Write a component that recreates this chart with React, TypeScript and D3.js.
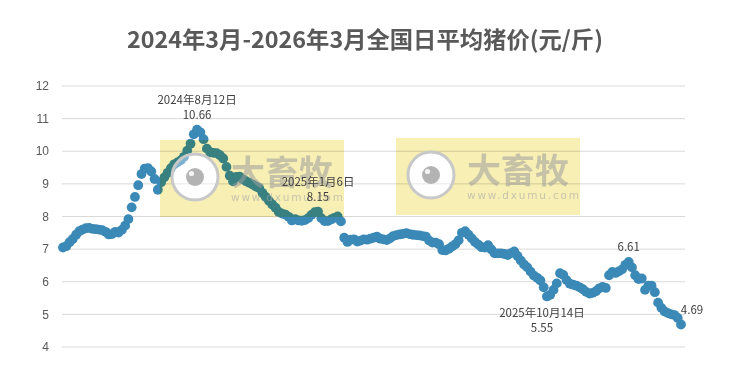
import React from "react";
import * as d3 from "d3";

const TITLE = "2024年3月-2026年3月全国日平均猪价(元/斤)";
const START_DATE = "2024-03-01";
const STEP_DAYS = 4;
const Y_TICKS = [4, 5, 6, 7, 8, 9, 10, 11, 12];

// Daily average pig price (yuan/jin), one reading every 4 days from 2024-03-01
const PRICES = [
  7.05, 7.09, 7.21, 7.31, 7.44, 7.55, 7.6, 7.64, 7.65, 7.62,
  7.61, 7.6, 7.58, 7.53, 7.45, 7.46, 7.53, 7.51, 7.59, 7.72,
  7.92, 8.28, 8.6, 8.96, 9.3, 9.47, 9.48, 9.38, 9.15, 8.82,
  9.05, 9.2, 9.34, 9.48, 9.6, 9.66, 9.72, 9.83, 10.02, 10.23,
  10.52, 10.66, 10.58, 10.37, 10.08, 9.97, 9.95, 9.94, 9.88, 9.78,
  9.52, 9.25, 9.08, 9.21, 9.22, 9.14, 9.08, 9.03, 8.98, 8.92,
  8.87, 8.72, 8.6, 8.48, 8.37, 8.27, 8.14, 8.09, 8.06, 7.99,
  7.88, 7.92, 7.88, 7.87, 7.89, 7.95, 8.05, 8.13, 8.15, 7.95,
  7.86, 7.86, 7.91, 7.96, 8.0, 7.85, 7.35, 7.22, 7.29, 7.3,
  7.23, 7.26, 7.3, 7.29, 7.32, 7.35, 7.38, 7.32, 7.3, 7.28,
  7.33, 7.4, 7.43, 7.45, 7.47, 7.49, 7.46, 7.44, 7.43, 7.42,
  7.4, 7.38, 7.26, 7.2, 7.2, 7.15, 6.97, 6.96, 7.01, 7.08,
  7.15, 7.27, 7.5, 7.55, 7.44, 7.33, 7.22, 7.14, 7.06, 7.05,
  7.12, 6.99, 6.87, 6.87, 6.87, 6.85, 6.82, 6.88, 6.93, 6.79,
  6.65, 6.53, 6.44, 6.31, 6.19, 6.12, 6.04, 5.83, 5.55, 5.6,
  5.75, 5.95, 6.26, 6.21, 6.05, 5.94, 5.91, 5.88, 5.83, 5.77,
  5.69, 5.64, 5.66, 5.71, 5.8, 5.84, 5.81, 6.2, 6.3, 6.27,
  6.32, 6.38, 6.52, 6.61, 6.44, 6.2, 6.08, 6.1, 5.75, 5.88,
  5.88, 5.68, 5.36, 5.2, 5.09, 5.04, 5.0, 4.98, 4.89, 4.69,
];

// Annotated points: index into PRICES, label lines
const NOTE_INDEX = [41, 78, 148, 173, 189];
const NOTE_DATE = ["2024年8月12日", "2025年1月6日", "2025年10月14日", "", ""];
const NOTE_VALUE = ["10.66", "8.15", "5.55", "6.61", "4.69"];

const W = 729;
const H = 367;

function Watermark({ x, y }: { x: number; y: number }) {
  const bw = 184;
  const bh = 77;
  const cx = x + 35;
  const cy = y + 37;
  const r = 23;
  const box = `M${x},${y}h${bw}v${bh}h${-bw}Z M${cx + r},${cy} A${r},${r} 0 1,0 ${cx - r},${cy} A${r},${r} 0 1,0 ${cx + r},${cy}Z`;
  return (
    <g>
      <path d={box} fill="#f7efb4" fillRule="evenodd" style={{ mixBlendMode: "multiply" }} />
      <circle cx={cx} cy={cy} r={r} fill="#ffffff" fillOpacity={0.35} stroke="#c8c8c8" strokeWidth={3} />
      <circle cx={cx} cy={cy} r={9} fill="#ababab" fillOpacity={0.9} />
      <circle cx={cx - 3.5} cy={cy - 3.5} r={2.6} fill="#ffffff" fillOpacity={0.85} />
      <text
        x={x + 71}
        y={y + 45}
        fontFamily="'Noto Sans CJK SC', sans-serif"
        fontWeight={700}
        fontSize={34}
        fill="#9c9c9c"
        fillOpacity={0.55}
      >
        大畜牧
      </text>
      <text
        x={x + 71}
        y={y + 61}
        fontFamily="'DejaVu Sans', sans-serif"
        fontSize={10.5}
        letterSpacing={1.8}
        fill="#a8a8a8"
        fillOpacity={0.6}
      >
        www.dxumu.com
      </text>
    </g>
  );
}

export default function App() {
  const start = new Date(START_DATE + "T00:00:00");
  const dates = PRICES.map((_, i) => d3.timeDay.offset(start, i * STEP_DAYS));
  const x = d3
    .scaleTime()
    .domain([dates[0], dates[dates.length - 1]])
    .range([63, 681]);
  const y = d3.scaleLinear().domain([4, 12]).range([347, 86]);

  const labelFont = "'Noto Sans CJK SC', 'Liberation Sans', sans-serif";

  return (
    <svg
      width={W}
      height={H}
      style={{ position: "absolute", left: 0, top: 0, background: "#fff" }}
    >
      <rect width={W} height={H} fill="#ffffff" />
      <text
        x={365}
        y={48}
        textAnchor="middle"
        fontFamily="'Noto Sans CJK SC', sans-serif"
        fontWeight={700}
        fontSize={23}
        textLength={476}
        lengthAdjust="spacingAndGlyphs"
        fill="#595959"
      >
        {TITLE}
      </text>
      {Y_TICKS.map((t) => (
        <g key={t}>
          <line x1={62} x2={685} y1={y(t)} y2={y(t)} stroke="#d9d9d9" strokeWidth={1} />
          <text
            x={49}
            y={y(t)}
            dy="0.35em"
            textAnchor="end"
            fontFamily="'Liberation Sans', sans-serif"
            fontSize={12}
            fill="#595959"
          >
            {t}
          </text>
        </g>
      ))}
      <g>
        {PRICES.map((v, i) => (
          <circle key={i} cx={x(dates[i])} cy={y(v)} r={4.9} fill="#3b89b6" />
        ))}
      </g>
      <Watermark x={160} y={140} />
      <Watermark x={396} y={138} />
      <g fontFamily={labelFont} fontSize={11.5} fill="#404040">
        {NOTE_INDEX.map((idx, k) => {
          const px = x(dates[idx]);
          const py = y(PRICES[idx]);
          if (k === 2) {
            return (
              <g key={k}>
                <text x={px - 5} y={py + 21} textAnchor="middle">{NOTE_DATE[k]}</text>
                <text x={px - 5} y={py + 36} textAnchor="middle">{NOTE_VALUE[k]}</text>
              </g>
            );
          }
          if (k === 4) {
            return (
              <text key={k} x={px + 11} y={py - 10} textAnchor="middle">{NOTE_VALUE[k]}</text>
            );
          }
          if (k === 3) {
            return (
              <text key={k} x={px} y={py - 11} textAnchor="middle">{NOTE_VALUE[k]}</text>
            );
          }
          return (
            <g key={k}>
              <text x={px} y={py - 26} textAnchor="middle">{NOTE_DATE[k]}</text>
              <text x={px} y={py - 11} textAnchor="middle">{NOTE_VALUE[k]}</text>
            </g>
          );
        })}
      </g>
    </svg>
  );
}
